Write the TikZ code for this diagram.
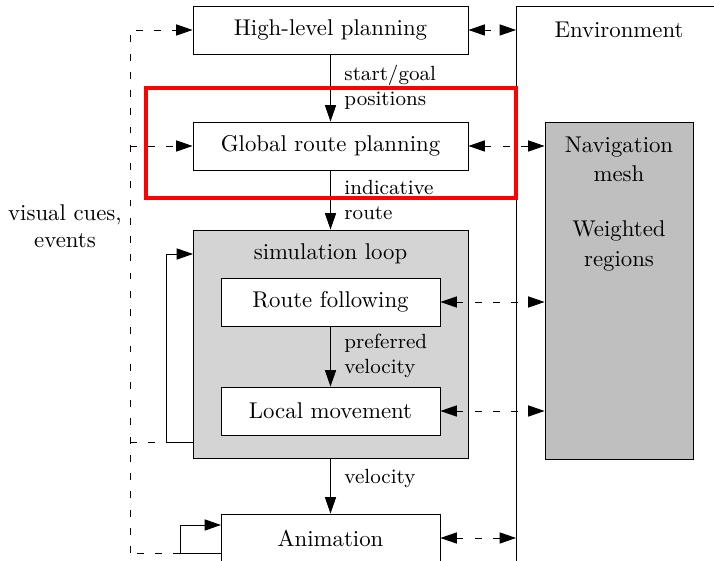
\documentclass[tikz,border=0pt]{standalone}
\usetikzlibrary{arrows.meta}
\newlength\pxu
\setlength\pxu{0.4386pt}
\begin{document}
\begin{tikzpicture}[x=0.4386pt,y=-0.4386pt,
  tip/.tip={Triangle[length=7.2pt,width=4.9pt]},
  arr/.style={-tip},
  dsh/.style={dash pattern=on 3pt off 5pt},
  darr/.style={tip-tip,dsh},
  box/.style={draw,fill=white,inner sep=0pt,minimum width=275*\pxu,minimum height=48*\pxu},
  ibox/.style={draw,fill=white,inner sep=0pt,minimum width=219*\pxu,minimum height=48*\pxu},
  lbl/.style={font=\small,align=left,anchor=west,inner sep=0pt}]
\useasboundingbox (0,0) rectangle (714,561);
% environment
\draw (516,565) -- (516,6) -- (718,6);
\node (envt) at (619,30) {Environment};
\node[draw,fill=black!25,inner sep=0pt,minimum width=148*\pxu,minimum height=337*\pxu] (nav) at (619,290.5) {};
\node[align=center,anchor=north,inner sep=0pt] (navt) at (619,136) {Navigation\\[1pt]mesh\\[\baselineskip]Weighted\\[1pt]regions};
% main column
\node[box] (hl) at (330.5,30) {High-level planning};
\node[box] (grp) at (330.5,146) {Global route planning};
\node[draw,fill=black!17,inner sep=0pt,minimum width=275*\pxu,minimum height=228*\pxu] (sim) at (330.5,344) {};
\node (simt) at (330.5,254) {simulation loop};
\node[ibox] (rf) at (330.5,302) {Route following};
\node[ibox] (lm) at (330.5,411) {Local movement};
\node[ibox] (anim) at (330.5,538) {Animation};
% vertical flow
\draw[arr] (hl.south) -- (grp.north);
\node[lbl] (l1) at (344,87) {start/goal\\positions};
\draw[arr] (grp.south) -- (sim.north);
\node[lbl] (l2) at (344,200) {indicative\\route};
\draw[arr] (rf.south) -- (lm.north);
\node[lbl] (l3) at (344,356) {preferred\\velocity};
\draw[arr] (sim.south) -- (anim.north);
\node[lbl] (l4) at (344,478) {velocity};
% environment links
\coordinate (e1) at (516,30);
\coordinate (e5) at (516,538);
\draw[darr] (hl.east) -- (e1);
\draw[darr] (grp.east) -- (nav.west |- grp.east);
\draw[darr] (rf.east) -- (nav.west |- rf.east);
\draw[darr] (lm.east) -- (nav.west |- lm.east);
\draw[darr] (anim.east) -- (e5);
% feedback loops
\coordinate (s1) at (193,442);
\coordinate (s2) at (166,442);
\coordinate (s3) at (166,254);
\coordinate (s4) at (193,254);
\draw[arr] (s1) -- (s2) -- (s3) -- (s4);
\coordinate (a1) at (221,553);
\coordinate (a2) at (180,553);
\coordinate (a3) at (180,525);
\coordinate (a4) at (221,525);
\draw[arr] (a1) -- (a2) -- (a3) -- (a4);
% visual cues
\coordinate (v0) at (130,553);
\coordinate (v1) at (130,30);
\coordinate (v2) at (130,146);
\coordinate (v3) at (130,442);
\draw[dsh] (a2) -- (v0);
\draw[dsh,arr] (v0) -- (v1) -- (hl.west);
\draw[dsh,arr] (v2) -- (grp.west);
\draw[dsh] (v3) -- (s2);
\node[align=center] (vc) at (65,226) {visual cues,\\events};
% highlight
\draw[red,line width=4*\pxu] (146,88) rectangle (516,198);
\end{tikzpicture}
\end{document}
